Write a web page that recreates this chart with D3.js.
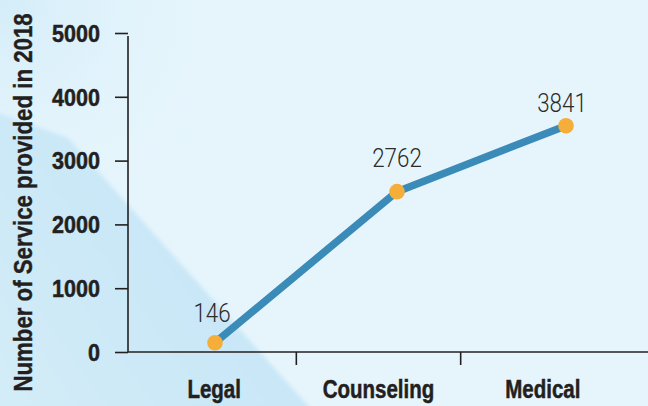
<!DOCTYPE html>
<html>
<head>
<meta charset="utf-8">
<script src="https://cdn.jsdelivr.net/npm/d3@7"></script>
<style>
  html, body { margin: 0; padding: 0; }
  body { width: 648px; height: 406px; overflow: hidden; }
  svg { display: block; }
</style>
</head>
<body>
<svg id="chart" width="648" height="406"></svg>
<script>
// ---- data ----
const categories = ["Legal", "Counseling", "Medical"];
const values = [146, 2513, 3547];            // plotted heights as drawn in the picture
const valueLabels = ["146", "2762", "3841"];  // printed labels
const yTicks = [0, 1000, 2000, 3000, 4000, 5000];
const yTitle = "Number of Service provided in 2018";

// ---- layout ----
const W = 648, H = 406;
const svg = d3.select("#chart");
const defs = svg.append("defs");

// background
svg.append("rect").attr("width", W).attr("height", H).attr("fill", "#e6f5fc");
const rg = defs.append("radialGradient").attr("id", "bgTL").attr("gradientUnits", "userSpaceOnUse")
  .attr("cx", 0).attr("cy", 0).attr("r", 260);
rg.append("stop").attr("offset", 0).attr("stop-color", "#d4edf9");
rg.append("stop").attr("offset", 1).attr("stop-color", "#e6f5fc").attr("stop-opacity", 0);
svg.append("rect").attr("width", W).attr("height", H).attr("fill", "url(#bgTL)");
const g2 = defs.append("linearGradient").attr("id", "bgBand").attr("gradientUnits", "userSpaceOnUse")
  .attr("x1", 190).attr("y1", 270).attr("x2", 0).attr("y2", 406);
g2.append("stop").attr("offset", 0).attr("stop-color", "#c9e7f7");
g2.append("stop").attr("offset", 1).attr("stop-color", "#d3ecf8");
const blur = defs.append("filter").attr("id", "soft");
blur.append("feGaussianBlur").attr("stdDeviation", 2);
svg.append("path").attr("d", "M-10,110 L68,138 L312,410 L-10,410 Z")
  .attr("fill", "url(#bgBand)").attr("filter", "url(#soft)");

const font = "'Liberation Sans', Arial, sans-serif";
const labelFont = "Roboto, 'Liberation Sans', Arial, sans-serif";
const ink = "#231f20";

const x = d3.scaleBand().domain(categories).range([132, 625]).padding(0);
const xp = d3.scaleLinear().domain([0, 1, 2]).range([215, 397, 566]);
const y = d3.scaleLinear().domain([0, 5000]).range([352, 33]);

// y axis
const yAxis = svg.append("g").attr("transform", "translate(128,0)")
  .call(d3.axisLeft(y).tickValues(yTicks).tickSize(13).tickFormat(() => ""));
yAxis.select(".domain").attr("d", `M0,${y(5000) + 3}V${y(0)}`).attr("stroke", ink).attr("stroke-width", 1.6);
yAxis.selectAll(".tick line").attr("stroke", ink).attr("stroke-width", 1.6);
svg.append("g").selectAll("text").data(yTicks).join("text")
  .attr("transform", d => `translate(100,${y(d) + 8.8}) scale(0.88,1)`)
  .attr("text-anchor", "end").attr("font-family", font).attr("font-weight", "bold")
  .attr("font-size", 24.5).attr("fill", ink).attr("stroke", ink).attr("stroke-width", 0.5)
  .text(d => d3.format("d")(d));

// x axis
const xg = svg.append("g");
xg.append("line").attr("x1", 128).attr("x2", W).attr("y1", y(0)).attr("y2", y(0))
  .attr("stroke", ink).attr("stroke-width", 1.6);
xg.selectAll("line.tk").data(categories.slice(1)).join("line").attr("class", "tk")
  .attr("x1", d => x(d)).attr("x2", d => x(d)).attr("y1", y(0)).attr("y2", y(0) + 13)
  .attr("stroke", ink).attr("stroke-width", 1.6);
xg.selectAll("text").data(categories).join("text")
  .attr("transform", d => `translate(${x(d) + x.bandwidth() / 2},398) scale(0.82,1)`)
  .attr("text-anchor", "middle").attr("font-family", font).attr("font-weight", "bold")
  .attr("font-size", 25).attr("fill", ink).attr("stroke", ink).attr("stroke-width", 0.5)
  .text(d => d);

// y title
svg.append("text").attr("transform", `translate(32,202.5) rotate(-90) scale(0.89,1)`)
  .attr("text-anchor", "middle").attr("font-family", font).attr("font-weight", "bold")
  .attr("font-size", 25).attr("fill", ink).attr("stroke", ink).attr("stroke-width", 0.4)
  .text(yTitle);

// line
const labelOffsets = [[-3, -20.5], [0, -25], [-4, -14]];
const pts = categories.map((c, i) => ({ i, c, v: values[i], lab: valueLabels[i] }));
svg.append("path").datum(pts)
  .attr("d", d3.line().x(d => xp(d.i)).y(d => y(d.v)))
  .attr("fill", "none").attr("stroke", "#3b8bb8").attr("stroke-width", 7.5).attr("stroke-linejoin", "round");
svg.selectAll("circle.pt").data(pts).join("circle").attr("class", "pt")
  .attr("cx", d => xp(d.i)).attr("cy", d => y(d.v)).attr("r", 7.8).attr("fill", "#f6ae3b");
svg.selectAll("text.lab").data(pts).join("text").attr("class", "lab")
  .attr("transform", d => `translate(${xp(d.i) + labelOffsets[d.i][0]},${y(d.v) + labelOffsets[d.i][1]}) scale(0.86,1)`)
  .attr("text-anchor", "middle").attr("font-family", labelFont).attr("font-weight", 300)
  .attr("font-size", 26).attr("fill", "#2b2b2b").text(d => d.lab);
</script>
</body>
</html>
